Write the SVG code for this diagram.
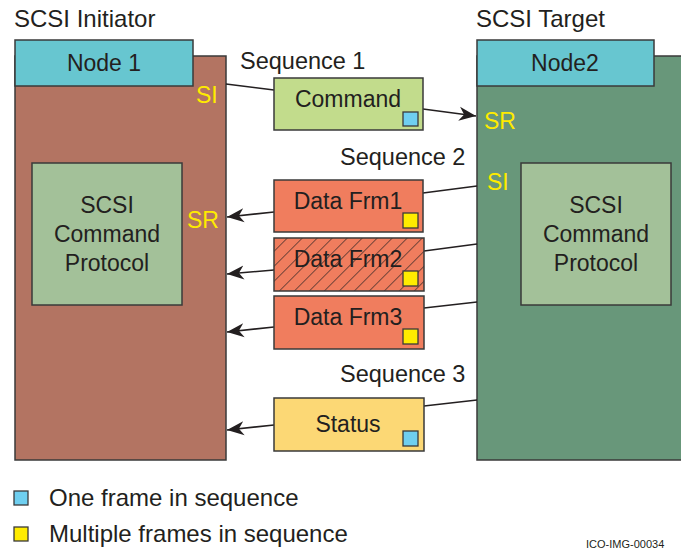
<svg xmlns="http://www.w3.org/2000/svg" width="681" height="551" viewBox="0 0 681 551">
<style>
text{font-family:"Liberation Sans",Arial,sans-serif;fill:#231F20}
.t{font-size:23px}
.c{text-anchor:middle}
.y{fill:#FFEB00;font-size:23px}
.box{stroke:#3a3a3a;stroke-width:1.5}
.sq{stroke:#3a3a3a;stroke-width:1.3}
.ln{stroke:#231F20;stroke-width:1.6;fill:none}
</style>
<defs>
<marker id="ah" markerUnits="userSpaceOnUse" markerWidth="18" markerHeight="15" viewBox="0 0 18 15" refX="17" refY="7.5" orient="auto">
<path d="M0,0.5 L17,7.5 L0,14.5 L5,7.5 Z" fill="#231F20"/>
</marker>
<pattern id="hatch" patternUnits="userSpaceOnUse" width="10.6" height="10.6" patternTransform="rotate(45)">
<rect width="10.6" height="10.6" fill="#F07D5E"/>
<line x1="0" y1="0" x2="0" y2="10.6" stroke="#231F20" stroke-width="1.2"/>
</pattern>
</defs>
<rect width="681" height="551" fill="#fff"/>

<text class="t" x="14" y="27" style="font-size:24px">SCSI Initiator</text>
<text class="t" x="476" y="27" style="font-size:24px">SCSI Target</text>

<g id="initiator">
<rect class="box" x="15" y="56" width="211" height="404" fill="#B37462"/>
<rect class="box" x="15" y="40" width="178" height="46" fill="#67C6D0"/>
<text class="t c" x="104" y="71">Node 1</text>
<text class="y" x="196" y="103">SI</text>
<text class="y" x="187" y="228">SR</text>
</g>
<g id="initiator-protocol">
<rect class="box" x="32" y="163" width="150" height="142" fill="#A3C199"/>
<text class="t c" x="107" y="213">SCSI</text>
<text class="t c" x="107" y="242">Command</text>
<text class="t c" x="107" y="271">Protocol</text>
</g>

<g id="target">
<rect class="box" x="477" y="56" width="210" height="404" fill="#68977A"/>
<rect class="box" x="477" y="40" width="177" height="46" fill="#67C6D0"/>
<text class="t c" x="565" y="71">Node2</text>
<text class="y" x="484" y="129">SR</text>
<text class="y" x="487" y="190">SI</text>
</g>
<g id="target-protocol">
<rect class="box" x="521" y="163" width="150" height="142" fill="#A3C199"/>
<text class="t c" x="596" y="213">SCSI</text>
<text class="t c" x="596" y="242">Command</text>
<text class="t c" x="596" y="271">Protocol</text>
</g>

<text class="t" x="240" y="69" style="font-size:23.5px">Sequence 1</text>
<text class="t" x="340" y="165" style="font-size:23.5px">Sequence 2</text>
<text class="t" x="340" y="382" style="font-size:23.5px">Sequence 3</text>

<g id="connectors">
<line class="ln" x1="226" y1="84" x2="274" y2="90"/>
<line class="ln" x1="423" y1="109" x2="476" y2="116" marker-end="url(#ah)"/>
<line class="ln" x1="477" y1="186" x2="423" y2="193"/>
<line class="ln" x1="274" y1="212" x2="227" y2="217" marker-end="url(#ah)"/>
<line class="ln" x1="477" y1="244" x2="424" y2="251"/>
<line class="ln" x1="274" y1="270" x2="227" y2="274" marker-end="url(#ah)"/>
<line class="ln" x1="477" y1="302" x2="424" y2="308"/>
<line class="ln" x1="274" y1="327" x2="227" y2="332" marker-end="url(#ah)"/>
<line class="ln" x1="477" y1="400" x2="424" y2="406"/>
<line class="ln" x1="274" y1="425" x2="227" y2="430" marker-end="url(#ah)"/>
</g>

<g id="command">
<rect class="box" x="274" y="78" width="149" height="52" fill="#C2DC8C"/>
<text class="t c" x="348" y="107">Command</text>
<rect class="sq" x="403" y="112" width="15" height="14" fill="#6FCFF0"/>
</g>
<g id="data1">
<rect class="box" x="274" y="180" width="149" height="52" fill="#F07D5E"/>
<text class="t c" x="348" y="209">Data Frm1</text>
<rect class="sq" x="403" y="213" width="15" height="15" fill="#FFEC00"/>
</g>
<g id="data2">
<rect class="box" x="274" y="238" width="150" height="53" fill="url(#hatch)"/>
<text class="t c" x="348" y="267">Data Frm2</text>
<rect class="sq" x="403" y="271" width="15" height="15" fill="#FFEC00"/>
</g>
<g id="data3">
<rect class="box" x="274" y="296" width="150" height="53" fill="#F07D5E"/>
<text class="t c" x="348" y="325">Data Frm3</text>
<rect class="sq" x="403" y="329" width="15" height="15" fill="#FFEC00"/>
</g>
<g id="status">
<rect class="box" x="274" y="398" width="150" height="53" fill="#FCD875"/>
<text class="t c" x="348" y="432">Status</text>
<rect class="sq" x="403" y="431" width="15" height="15" fill="#6FCFF0"/>
</g>

<g id="legend">
<rect class="sq" x="14" y="491" width="14" height="14" fill="#6FCFF0"/>
<text x="49" y="506" style="font-size:24px">One frame in sequence</text>
<rect class="sq" x="14" y="527" width="14" height="14" fill="#FFEC00"/>
<text x="49" y="542" style="font-size:24px">Multiple frames in sequence</text>
</g>
<text x="586" y="548" style="font-size:11px">ICO-IMG-00034</text>
</svg>
